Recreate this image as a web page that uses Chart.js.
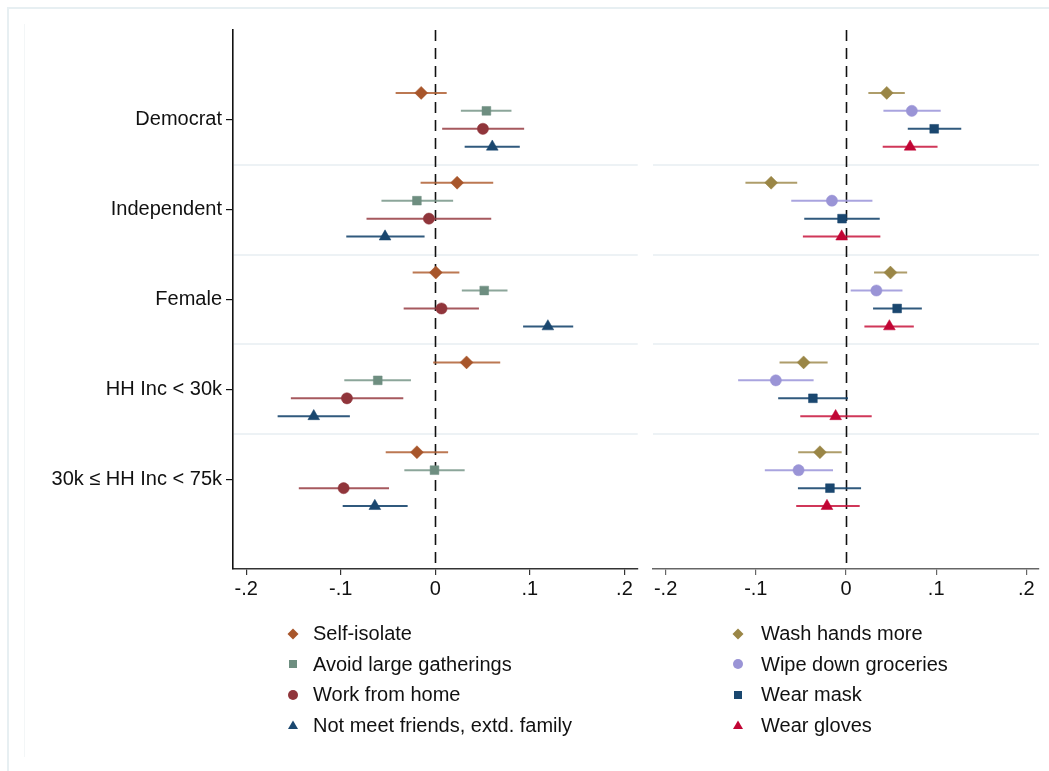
<!DOCTYPE html>
<html>
<head>
<meta charset="utf-8">
<script src="https://cdn.jsdelivr.net/npm/chart.js@4.4.1/dist/chart.umd.min.js"></script>
<style>
  html, body { margin: 0; padding: 0; background: #fff; }
  body { width: 1049px; height: 771px; position: relative; overflow: hidden; font-family: "Liberation Sans", Arial, sans-serif; }
  #frame { position: absolute; left: 7px; top: 7px; width: 1100px; height: 800px; border-left: 2px solid #e7eff2; border-top: 2px solid #e7eff2; box-sizing: border-box; }
  #inner { position: absolute; left: 24px; top: 24px; width: 1px; height: 733px; background: #f3f6f7; }
  #wl { position: absolute; left: 0; top: 0; width: 645px; height: 620px; }
  #wr { position: absolute; left: 645px; top: 0; width: 404px; height: 620px; }
  .legend { position: absolute; top: 618px; }
  .item { position: relative; height: 30.5px; line-height: 30.5px; font-size: 20px; color: #111; white-space: nowrap; }
  .item svg { position: absolute; top: 9.75px; }
</style>
</head>
<body>
<div id="frame"></div>
<div id="inner"></div>
<div id="wl"><canvas id="cl"></canvas></div>
<div id="wr"><canvas id="cr"></canvas></div>
<div class="legend" id="legL" style="left:284px;"></div>
<div class="legend" id="legR" style="left:729px;"></div>
<script>
// ---- Data ----
const categories = ["Democrat", "Independent", "Female", "HH Inc < 30k", "30k \u2264 HH Inc < 75k"];
const xTickValues = [-0.2, -0.1, 0, 0.1, 0.2];
const xTickLabels = ["-.2", "-.1", "0", ".1", ".2"];

// Left panel series (social distancing)
const leftNames = ["Self-isolate", "Avoid large gatherings", "Work from home", "Not meet friends, extd. family"];
const selfIsolateEst = [-0.015, 0.023, 0.0005, 0.033, -0.0195];
const selfIsolateLo  = [-0.042, -0.0156, -0.024, -0.0023, -0.0525];
const selfIsolateHi  = [0.012, 0.0612, 0.0254, 0.0686, 0.0135];

const avoidEst = [0.054, -0.0195, 0.0517, -0.0609, -0.0009];
const avoidLo  = [0.027, -0.057, 0.028, -0.0963, -0.0328];
const avoidHi  = [0.0805, 0.0188, 0.0763, -0.0258, 0.031];

const workHomeEst = [0.0503, -0.0068, 0.0065, -0.0935, -0.097];
const workHomeLo  = [0.0072, -0.0728, -0.0335, -0.1528, -0.1444];
const workHomeHi  = [0.0939, 0.0591, 0.0461, -0.0339, -0.049];

const notMeetEst = [0.0602, -0.0532, 0.119, -0.1286, -0.064];
const notMeetLo  = [0.031, -0.0942, 0.0928, -0.1668, -0.098];
const notMeetHi  = [0.0893, -0.0114, 0.1458, -0.0904, -0.0293];

// Right panel series (hygiene)
const rightNames = ["Wash hands more", "Wipe down groceries", "Wear mask", "Wear gloves"];
const washEst = [0.0452, -0.083, 0.0493, -0.047, -0.0289];
const washLo  = [0.0248, -0.1115, 0.0311, -0.0737, -0.053];
const washHi  = [0.0652, -0.0541, 0.0678, -0.0204, -0.0048];

const wipeEst = [0.073, -0.0156, 0.0337, -0.0778, -0.0526];
const wipeLo  = [0.0415, -0.0607, 0.0052, -0.1196, -0.09];
const wipeHi  = [0.105, 0.0293, 0.0626, -0.0359, -0.0144];

const maskEst = [0.0978, -0.0044, 0.0567, -0.0367, -0.0178];
const maskLo  = [0.0685, -0.0463, 0.03, -0.0752, -0.0533];
const maskHi  = [0.1278, 0.0374, 0.0841, 0.0022, 0.0167];

const glovesEst = [0.0711, -0.0048, 0.0481, -0.0115, -0.0211];
const glovesLo  = [0.0407, -0.0478, 0.0204, -0.0507, -0.0552];
const glovesHi  = [0.1015, 0.0381, 0.0752, 0.0285, 0.0152];

// ---- Styles ----
const seriesOffsets = [-0.3, -0.1, 0.1, 0.3];
const leftColors = ["#a8562b", "#6e8e80", "#90353b", "#1a476f"];
const leftLineColors = ["rgba(176,96,52,0.85)", "rgba(120,150,136,0.85)", "rgba(150,60,66,0.85)", "rgba(26,71,111,0.9)"];
const leftShapes = ["rectRot", "rect", "circle", "triangle"];
const rightColors = ["#9a8646", "#9a94d6", "#1a476f", "#c10534"];
const rightLineColors = ["rgba(160,140,80,0.85)", "rgba(160,154,220,0.9)", "rgba(26,71,111,0.9)", "rgba(200,20,60,0.85)"];
const rightShapes = ["rectRot", "circle", "rect", "triangle"];
const shapeRadius = { rectRot: 6.5, rect: 6.2, circle: 5.6, triangle: 6.8 };
const FONT = '"Liberation Sans", Arial, sans-serif';

function buildDatasets(ests, los, his, colors, lineColors, shapes, names) {
  const ds = [];
  ests.forEach((est, s) => {
    categories.forEach((c, i) => {
      const y = (i + 1) + seriesOffsets[s];
      ds.push({
        type: 'line',
        label: names[s] + ' CI',
        data: [{ x: los[s][i], y: y }, { x: his[s][i], y: y }],
        borderColor: lineColors[s],
        borderWidth: 2,
        pointRadius: 0,
        fill: false,
        order: 2
      });
    });
    ds.push({
      type: 'scatter',
      label: names[s],
      data: est.map((v, i) => ({ x: v, y: (i + 1) + seriesOffsets[s] })),
      backgroundColor: colors[s],
      borderColor: colors[s],
      borderWidth: 0.5,
      pointStyle: shapes[s],
      pointRadius: shapeRadius[shapes[s]],
      order: 1
    });
  });
  return ds;
}

const zeroLine = {
  id: 'zeroLine',
  beforeDatasetsDraw(chart) {
    const { ctx, chartArea, scales } = chart;
    const x = Math.round(scales.x.getPixelForValue(0)) + 0.5;
    ctx.save();
    ctx.strokeStyle = '#111';
    ctx.lineWidth = 1.6;
    ctx.setLineDash([11, 7]);
    ctx.beginPath();
    ctx.moveTo(x, chartArea.top);
    ctx.lineTo(x, chartArea.bottom);
    ctx.stroke();
    ctx.restore();
  }
};

function makeOptions(showY, axisColor, yWidth, padRight) {
  return {
    responsive: false,
    animation: false,
    layout: { padding: { top: 30, right: padRight, bottom: 0, left: 0 } },
    plugins: { legend: { display: false }, tooltip: { enabled: false } },
    scales: {
      x: {
        type: 'linear',
        min: -0.214, max: 0.214,
        afterBuildTicks: (sc) => { sc.ticks = xTickValues.map(v => ({ value: v })); },
        afterFit: (sc) => { sc.height = 51; },
        ticks: {
          callback: (v) => { const k = xTickValues.findIndex(t => Math.abs(t - v) < 1e-9); return k >= 0 ? xTickLabels[k] : ''; },
          font: { family: FONT, size: 20 },
          color: '#111',
          padding: 2,
          maxRotation: 0,
          autoSkip: false
        },
        grid: { drawOnChartArea: false, drawTicks: true, tickLength: 6, color: axisColor, tickColor: axisColor, lineWidth: 1.2 },
        border: { display: true, color: axisColor, width: 1.6 }
      },
      y: {
        type: 'linear',
        min: 0, max: 6,
        reverse: true,
        afterBuildTicks: (sc) => { const t = []; for (let v = 1; v <= 5.001; v += 0.5) t.push({ value: v }); sc.ticks = t; },
        afterFit: (sc) => { sc.width = yWidth; },
        ticks: {
          display: showY,
          callback: (v) => Number.isInteger(v) ? categories[v - 1] : '',
          font: { family: FONT, size: 20 },
          color: '#111',
          padding: 4,
          autoSkip: false
        },
        grid: {
          drawOnChartArea: true,
          drawTicks: showY,
          tickLength: 7,
          lineWidth: (ctx) => (ctx.tick && !Number.isInteger(ctx.tick.value)) ? 2 : 1.2,
          color: (ctx) => (ctx.tick && !Number.isInteger(ctx.tick.value)) ? '#edf2f5' : 'rgba(0,0,0,0)',
          tickColor: (ctx) => (ctx.tick && Number.isInteger(ctx.tick.value)) ? '#111' : 'rgba(0,0,0,0)'
        },
        border: { display: showY, color: '#111', width: 1.6 }
      }
    }
  };
}

const cl = document.getElementById('cl');
cl.width = 645; cl.height = 620;
new Chart(cl, {
  type: 'scatter',
  data: { datasets: buildDatasets(
    [selfIsolateEst, avoidEst, workHomeEst, notMeetEst],
    [selfIsolateLo, avoidLo, workHomeLo, notMeetLo],
    [selfIsolateHi, avoidHi, workHomeHi, notMeetHi],
    leftColors, leftLineColors, leftShapes, leftNames) },
  options: makeOptions(true, '#333', 233, 6),
  plugins: [zeroLine]
});

const cr = document.getElementById('cr');
cr.width = 404; cr.height = 620;
new Chart(cr, {
  type: 'scatter',
  data: { datasets: buildDatasets(
    [washEst, wipeEst, maskEst, glovesEst],
    [washLo, wipeLo, maskLo, glovesLo],
    [washHi, wipeHi, maskHi, glovesHi],
    rightColors, rightLineColors, rightShapes, rightNames) },
  options: makeOptions(false, '#666', 8, 10),
  plugins: [zeroLine]
});

// ---- HTML legends ----
function markerSvg(shape, color) {
  let inner = '';
  if (shape === 'rectRot') inner = `<polygon points="6,0.5 11.5,6 6,11.5 0.5,6" fill="${color}"/>`;
  else if (shape === 'rect') inner = `<rect x="2" y="2" width="8" height="8" fill="${color}"/>`;
  else if (shape === 'circle') inner = `<circle cx="6" cy="6" r="5" fill="${color}"/>`;
  else inner = `<polygon points="6,1.5 11,10 1,10" fill="${color}"/>`;
  return `<svg width="12" height="12" viewBox="0 0 12 12" style="left:3px">${inner}</svg>`;
}
function buildLegend(el, names, colors, shapes, textOffset) {
  el.innerHTML = names.map((n, i) =>
    `<div class="item">${markerSvg(shapes[i], colors[i])}<span style="position:absolute;left:${textOffset}px">${n}</span></div>`
  ).join('');
}
buildLegend(document.getElementById('legL'), leftNames, leftColors, leftShapes, 29);
buildLegend(document.getElementById('legR'), rightNames, rightColors, rightShapes, 32);
</script>
</body>
</html>
